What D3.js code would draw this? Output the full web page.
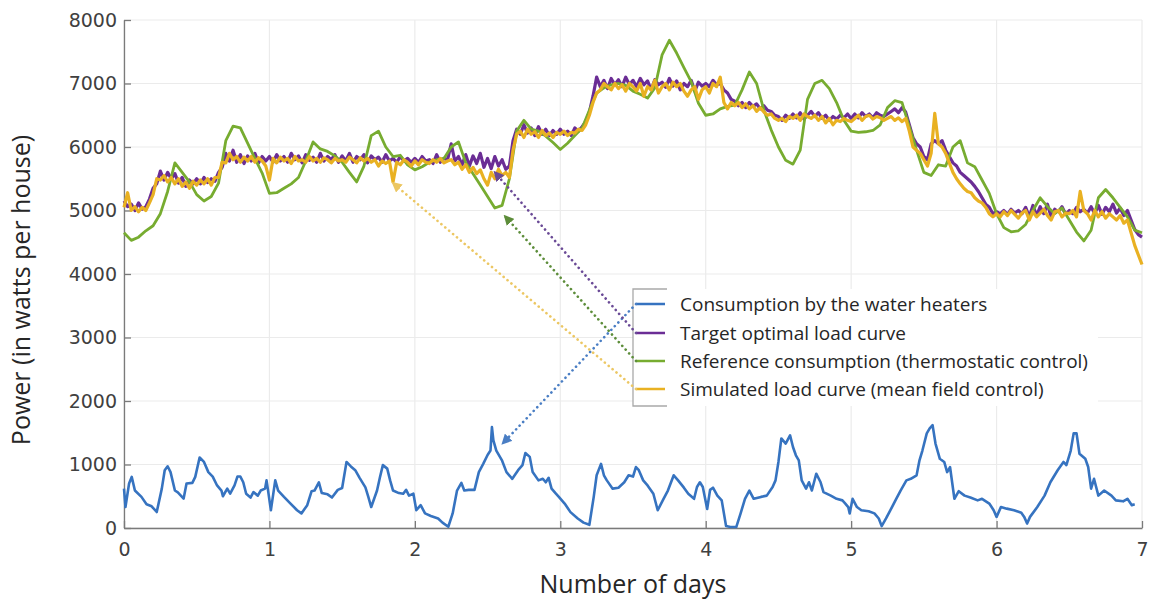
<!DOCTYPE html>
<html>
<head>
<meta charset="utf-8">
<script src="https://cdn.jsdelivr.net/npm/d3@7"></script>
<style>
  body { margin: 0; background: #fff; }
</style>
</head>
<body>
<div id="chart-area"></div>
<script>
// DAYS GRID FOR THE NOISY CURVES (0.025 DAY STEP) AND GREEN (0.05 STEP)
const stepFine = 0.025;
const stepGreen = 0.05;

// TARGET OPTIMAL LOAD CURVE (PURPLE), ONE ROW = HALF A DAY
const targetLoad = [
  5150, 5060, 5100, 5000, 5120, 5020, 5060, 5180, 5350, 5420, 5620, 5480, 5600, 5500, 5580, 5430, 5520, 5380, 5480, 5420,
  5500, 5420, 5520, 5440, 5500, 5460, 5600, 5680, 5900, 5780, 5950, 5760, 5880, 5740, 5860, 5780, 5900, 5750, 5850, 5780,
  5850, 5760, 5880, 5780, 5850, 5760, 5900, 5800, 5860, 5750, 5880, 5790, 5840, 5760, 5900, 5780, 5850, 5800, 5880, 5760,
  5860, 5780, 5900, 5760, 5850, 5800, 5880, 5750, 5860, 5800, 5840, 5760, 5880, 5780, 5820, 5760, 5850, 5780, 5820, 5760,
  5820, 5760, 5850, 5780, 5800, 5740, 5880, 5760, 5820, 5800, 6050, 5780, 5850, 5720, 5880, 5700, 5860, 5740, 5900, 5680,
  5820, 5660, 5850, 5700, 5800, 5650, 5700, 6100, 6280, 6200, 6350, 6220, 6300, 6180, 6320, 6200, 6280, 6180, 6260, 6200,
  6280, 6200, 6250, 6180, 6300, 6250, 6320, 6400, 6550, 6800, 7100, 6950, 7050, 6920, 7080, 6980, 7060, 6950, 7100, 6980,
  7050, 6950, 7080, 6980, 7040, 6900, 7060, 6980, 7020, 6940, 7080, 6960, 7040, 6900, 7000, 6950, 7050, 6880, 7020, 6960,
  7000, 6950, 7050, 6980, 7000, 6900, 6850, 6750, 6720, 6650, 6700, 6620, 6700, 6640, 6680, 6600, 6650, 6580, 6560, 6500,
  6480, 6420, 6500, 6450, 6520, 6460, 6540, 6440, 6500, 6560, 6480, 6540, 6450, 6500, 6420, 6480, 6440, 6500, 6460, 6520,
  6450, 6520, 6460, 6540, 6480, 6520, 6460, 6540, 6500, 6480, 6520, 6560, 6600, 6540, 6620, 6550, 6350, 6150, 6050, 6000,
  5850, 5800, 6050, 6100, 6050, 6100, 5950, 5850, 5750, 5700, 5600, 5550, 5500, 5450, 5380, 5300, 5200, 5100, 5050, 4950,
  4980, 4950, 5000, 4940, 5020, 4960, 5000, 4950, 5050, 4900, 5080, 4920, 5060, 4950, 5100, 4900, 5020, 4980, 5060, 4940,
  5000, 4950, 5050, 4980, 5020, 4960, 5060, 4950, 5080, 4940, 5050, 4980, 5100, 4960, 5040, 4920, 5000, 4850, 4700, 4620,
  4580
];

// SIMULATED LOAD CURVE, MEAN FIELD CONTROL (YELLOW)
const simulatedLoad = [
  5050, 5280, 5000, 5060, 4980, 5050, 5000, 5120, 5250, 5500, 5480, 5550, 5450, 5520, 5420, 5500, 5380, 5450, 5350, 5460,
  5400, 5480, 5420, 5500, 5400, 5520, 5520, 5760, 5750, 5900, 5800, 5850, 5760, 5840, 5780, 5850, 5760, 5830, 5780, 5700,
  5480, 5820, 5750, 5840, 5780, 5820, 5740, 5850, 5780, 5800, 5760, 5850, 5780, 5820, 5760, 5830, 5800, 5750, 5820, 5780,
  5800, 5760, 5840, 5800, 5750, 5830, 5780, 5820, 5760, 5800, 5700, 5780, 5740, 5780, 5450, 5760, 5720, 5800, 5760, 5700,
  5780, 5720, 5800, 5760, 5740, 5800, 5760, 5820, 5750, 5780, 5800, 5720, 5760, 5650, 5720, 5600, 5680, 5580, 5640, 5500,
  5400, 5600, 5500, 5650, 5550, 5600, 5520, 5950, 6200, 6250, 6150, 6280, 6200, 6240, 6150, 6260, 6180, 6220, 6150, 6230,
  6200, 6250, 6180, 6230, 6220, 6280, 6260, 6350, 6500, 6700, 6850, 6900, 7000, 6950, 6900, 7000, 6920, 6980, 6880, 7000,
  6950, 6880, 7000, 6800, 6950, 6900, 7050, 6850, 6950, 7000, 6900, 7020, 6950, 7000, 6880, 6800, 6900, 6950, 6750, 6900,
  6950, 6850, 7000, 6950, 7100, 6700, 6600, 6700, 6650, 6700, 6620, 6680, 6600, 6650, 6560, 6620, 6550, 6500, 6520, 6450,
  6420, 6450, 6400, 6480, 6450, 6500, 6420, 6520, 6480, 6450, 6500, 6420, 6480, 6380, 6450, 6350, 6420, 6400, 6450, 6420,
  6400, 6450, 6500, 6420, 6480, 6500, 6440, 6480, 6460, 6420, 6450, 6480, 6420, 6460, 6400, 6450, 6250, 6000, 5950, 5900,
  5800, 5700, 5900, 6530, 6050, 6000, 5900, 5750, 5600, 5500, 5420, 5350, 5300, 5280, 5200, 5150, 5120, 5050, 4950, 4900,
  4950, 4900, 4980, 4920, 5000, 4940, 4880, 4960, 5000, 4850, 4980, 4900, 4960, 5020, 4920, 4850, 4980, 5000, 4900, 4960,
  4950, 5000, 4900, 5300, 5000, 4950, 4850, 5000, 4900, 4980, 4880, 4950, 4900, 4850, 4920, 4800, 4850, 4650, 4450, 4300,
  4150
];

// REFERENCE CONSUMPTION, THERMOSTATIC CONTROL (GREEN), ONE ROW = ONE DAY
const referenceLoad = [
  4650, 4530, 4580, 4680, 4760, 4950, 5300, 5750, 5600, 5450, 5250, 5150, 5220, 5430, 6100, 6330, 6300, 6060, 5820, 5590,
  5270, 5280, 5350, 5420, 5520, 5780, 6080, 5970, 5930, 5860, 5760, 5600, 5450, 5700, 6180, 6250, 6000, 5850, 5870, 5720,
  5640, 5690, 5760, 5800, 5820, 6000, 6080, 5750, 5580, 5400, 5220, 5040, 5080, 5500, 6250, 6420, 6280, 6250, 6170, 6070,
  5960, 6060, 6180, 6300, 6580, 6850, 6930, 6980, 7000, 6970, 6880, 6830, 6770, 6930, 7450, 7680, 7480, 7250, 7030, 6690,
  6500, 6520, 6600, 6640, 6660, 6900, 7180, 7000, 6580, 6270, 6000, 5790, 5730, 5950, 6750, 7000, 7050, 6920, 6700, 6420,
  6250, 6230, 6240, 6260, 6350, 6620, 6730, 6700, 6320, 5950, 5600, 5550, 5720, 5700, 6000, 6100, 5750, 5690, 5480, 5270,
  4950, 4730, 4665, 4680, 4780, 5000, 5200, 5060, 4950, 5040, 4850, 4660, 4520, 4690, 5200, 5330, 5200, 5050, 4900, 4690,
  4650
];

// CONSUMPTION BY THE WATER HEATERS (BLUE): [day, watts]
const heaterLoad = [
  [0, 620], [0.01, 330], [0.035, 700], [0.053, 805], [0.075, 590], [0.12, 490], [0.155, 373], [0.19, 342], [0.225, 252],
  [0.26, 620], [0.28, 910], [0.30, 972], [0.32, 880], [0.35, 590], [0.37, 560], [0.41, 463], [0.43, 700], [0.47, 710],
  [0.49, 805], [0.52, 1110], [0.55, 1040], [0.58, 880], [0.61, 810], [0.64, 670], [0.67, 590], [0.68, 500], [0.71, 620],
  [0.73, 540], [0.76, 670], [0.78, 810], [0.80, 810], [0.82, 720], [0.84, 540], [0.87, 480], [0.89, 565], [0.92, 510],
  [0.94, 590], [0.97, 620], [0.98, 750], [0.99, 600], [1.01, 280], [1.04, 750], [1.06, 590], [1.10, 490], [1.14, 395],
  [1.19, 280], [1.22, 230], [1.26, 360], [1.29, 580], [1.31, 590], [1.34, 720], [1.36, 550], [1.40, 530], [1.43, 480],
  [1.47, 600], [1.50, 630], [1.53, 1040], [1.56, 970], [1.59, 910], [1.62, 790], [1.66, 640], [1.68, 490], [1.70, 330],
  [1.72, 460], [1.74, 590], [1.76, 800], [1.78, 990], [1.81, 935], [1.83, 750], [1.85, 590], [1.89, 550], [1.92, 540],
  [1.94, 600], [1.96, 510], [1.99, 540], [2.01, 280], [2.04, 360], [2.07, 230], [2.11, 190], [2.16, 150], [2.19, 85],
  [2.23, 20], [2.26, 230], [2.29, 590], [2.32, 710], [2.34, 590], [2.37, 600], [2.41, 600], [2.44, 880], [2.47, 1010],
  [2.50, 1150], [2.52, 1220], [2.53, 1590], [2.54, 1380], [2.56, 1220], [2.60, 1060], [2.63, 880], [2.67, 775], [2.71, 910],
  [2.74, 990], [2.76, 1180], [2.79, 1120], [2.81, 880], [2.85, 750], [2.88, 775], [2.90, 720], [2.92, 790], [2.94, 620],
  [2.97, 540], [2.99, 490], [3.03, 385], [3.07, 250], [3.12, 150], [3.16, 85], [3.20, 50], [3.23, 490], [3.25, 830],
  [3.28, 1010], [3.30, 830], [3.32, 750], [3.36, 620], [3.40, 635], [3.44, 720], [3.47, 830], [3.50, 810], [3.52, 960],
  [3.54, 910], [3.57, 750], [3.60, 670], [3.64, 540], [3.67, 280], [3.71, 460], [3.74, 590], [3.78, 830], [3.81, 750],
  [3.85, 635], [3.88, 540], [3.92, 460], [3.94, 645], [3.96, 720], [3.98, 645], [4.01, 300], [4.03, 600], [4.05, 635],
  [4.08, 510], [4.11, 435], [4.14, 30], [4.17, 15], [4.21, 15], [4.24, 230], [4.27, 460], [4.30, 590], [4.33, 460],
  [4.38, 490], [4.42, 510], [4.46, 645], [4.48, 750], [4.50, 1040], [4.52, 1410], [4.55, 1330], [4.58, 1460], [4.60, 1275],
  [4.62, 1145], [4.64, 1065], [4.66, 750], [4.69, 620], [4.71, 720], [4.73, 590], [4.76, 855], [4.79, 720], [4.81, 565],
  [4.86, 510], [4.90, 460], [4.94, 435], [4.96, 385], [4.98, 330], [4.99, 230], [5.01, 460], [5.04, 330], [5.07, 280],
  [5.12, 265], [5.16, 230], [5.19, 150], [5.21, 30], [5.24, 150], [5.27, 280], [5.31, 460], [5.34, 590], [5.38, 750],
  [5.41, 775], [5.45, 830], [5.47, 1065], [5.49, 1220], [5.52, 1490], [5.54, 1570], [5.56, 1620], [5.58, 1330], [5.61, 1090],
  [5.64, 1040], [5.66, 880], [5.68, 960], [5.71, 460], [5.74, 580], [5.78, 510], [5.82, 480], [5.87, 435], [5.90, 460],
  [5.95, 385], [5.98, 280], [6.00, 175], [6.03, 330], [6.07, 305], [6.12, 280], [6.17, 240], [6.19, 175], [6.21, 70],
  [6.23, 175], [6.28, 330], [6.33, 510], [6.37, 720], [6.42, 910], [6.46, 1040], [6.48, 990], [6.51, 1220], [6.53, 1490],
  [6.55, 1490], [6.57, 1170], [6.61, 1090], [6.63, 960], [6.65, 620], [6.67, 775], [6.70, 510], [6.74, 590], [6.79, 510],
  [6.82, 435], [6.87, 420], [6.90, 460], [6.93, 360], [6.95, 375]
];

// TICKS
const xTicks = [0, 1, 2, 3, 4, 5, 6, 7];
const yTicks = [0, 1000, 2000, 3000, 4000, 5000, 6000, 7000, 8000];

// LEGEND LABELS AND THE POINT ON THE CURVE EACH ARROW POINTS AT [day, watts]
const seriesNames = [
  "Consumption by the water heaters",
  "Target optimal load curve",
  "Reference consumption (thermostatic control)",
  "Simulated load curve (mean field control)"
];
const arrowTargets = [[2.605, 1335], [2.55, 5600], [2.62, 4910], [1.85, 5430]];

const colors = ["#3673c0", "#6b2d95", "#77ac30", "#e9b122"];
const arrowColors = ["#4a7ec4", "#6a4a96", "#5d8d3a", "#ecc763"];

const width = 1151, height = 600;
const margin = { left: 124, right: 9, top: 20, bottom: 72 };

const svg = d3.select("#chart-area")
    .append("svg")
    .attr("width", width)
    .attr("height", height);

svg.append("rect").attr("width", width).attr("height", height).attr("fill", "#fff");

const x = d3.scaleLinear().domain([0, 7]).range([margin.left, width - margin.right]);
const y = d3.scaleLinear().domain([0, 8000]).range([height - margin.bottom, margin.top]);

// GRID
svg.append("g")
    .selectAll("line.vg")
    .data(xTicks)
    .enter().append("line")
    .attr("x1", d => x(d)).attr("x2", d => x(d))
    .attr("y1", y(0)).attr("y2", y(8000))
    .attr("stroke", "#ebebeb").attr("stroke-width", 1.2);
svg.append("g")
    .selectAll("line.hg")
    .data(yTicks)
    .enter().append("line")
    .attr("x1", x(0)).attr("x2", x(7))
    .attr("y1", d => y(d)).attr("y2", d => y(d))
    .attr("stroke", "#ebebeb").attr("stroke-width", 1.2);

// AXES (TICKS POINT INWARD)
const xAxis = svg.append("g")
    .attr("transform", "translate(0," + y(0) + ")")
    .call(d3.axisBottom(x).tickValues(xTicks).tickFormat(d3.format("d"))
        .tickSize(-7).tickSizeOuter(0).tickPadding(15));
const yAxis = svg.append("g")
    .attr("transform", "translate(" + x(0) + ",0)")
    .call(d3.axisLeft(y).tickValues(yTicks).tickFormat(d3.format("d"))
        .tickSize(-7).tickSizeOuter(0).tickPadding(7));

[xAxis, yAxis].forEach(function (a) {
    a.select(".domain").attr("stroke", "#7a7a7a").attr("stroke-width", 1.3);
    a.selectAll(".tick line").attr("stroke", "#7a7a7a").attr("stroke-width", 1.3);
    a.selectAll("text")
        .attr("fill", "#404040")
        .style("font-family", "'DejaVu Sans', sans-serif")
        .style("font-size", "19px");
});

// CURVES
const line = d3.line()
    .x(d => x(d[0]))
    .y(d => y(d[1]))
    .curve(d3.curveLinear);

const toPairs = (arr, step) => arr.map((v, i) => [i * step, v]);

const series = [
    heaterLoad,
    toPairs(targetLoad, stepFine),
    toPairs(referenceLoad, stepGreen),
    toPairs(simulatedLoad, stepFine)
];
const widths = [2.6, 3.2, 2.8, 3.2];

series.forEach(function (data, i) {
    svg.append("path")
        .datum(data)
        .attr("d", line)
        .attr("fill", "none")
        .attr("stroke", colors[i])
        .attr("stroke-width", widths[i])
        .attr("stroke-linejoin", "round");
});

// LEGEND
const legX = 633, legTop = 289, legBottom = 406, rowY = [304, 333, 361, 389];

const legend = svg.append("g");
legend.append("rect")
    .attr("x", legX).attr("y", legTop)
    .attr("width", 465).attr("height", legBottom - legTop)
    .attr("fill", "#fff");
legend.append("path")
    .attr("d", "M" + (legX + 34) + "," + legTop + "H" + legX + "V" + legBottom + "H" + (legX + 34))
    .attr("fill", "none")
    .attr("stroke", "#a9a9a9")
    .attr("stroke-width", 1.3);

seriesNames.forEach(function (name, i) {
    legend.append("line")
        .attr("x1", legX + 3).attr("x2", legX + 32)
        .attr("y1", rowY[i]).attr("y2", rowY[i])
        .attr("stroke", colors[i]).attr("stroke-width", 2.5);
    legend.append("text")
        .attr("x", legX + 47)
        .attr("y", rowY[i] + 7)
        .attr("fill", "#262626")
        .style("font-family", "'Open Sans', sans-serif")
        .style("font-size", "19px")
        .text(name);
});

// DOTTED ARROWS FROM LEGEND TO CURVES
const defs = svg.append("defs");
arrowColors.forEach(function (c, i) {
    defs.append("marker")
        .attr("id", "head" + i)
        .attr("viewBox", "0 0 10 10")
        .attr("refX", 8).attr("refY", 5)
        .attr("markerWidth", 4).attr("markerHeight", 4)
        .attr("orient", "auto")
        .append("path")
        .attr("d", "M0,0L10,5L0,10z")
        .attr("fill", c);
});

arrowTargets.forEach(function (t, i) {
    svg.append("line")
        .attr("x1", legX + 3).attr("y1", rowY[i])
        .attr("x2", x(t[0])).attr("y2", y(t[1]))
        .attr("stroke", arrowColors[i])
        .attr("stroke-width", 2.6)
        .attr("stroke-linecap", "round")
        .attr("stroke-dasharray", "0.1,5")
        .attr("marker-end", "url(#head" + i + ")");
});

// AXIS TITLES
svg.append("text")
    .attr("x", x(3.5))
    .attr("y", 593)
    .attr("text-anchor", "middle")
    .attr("fill", "#262626")
    .style("font-family", "'Open Sans', sans-serif")
    .style("font-size", "25px")
    .text("Number of days");

svg.append("text")
    .attr("transform", "translate(30,290) rotate(-90)")
    .attr("text-anchor", "middle")
    .attr("fill", "#262626")
    .style("font-family", "'Open Sans', sans-serif")
    .style("font-size", "25px")
    .text("Power (in watts per house)");
</script>
</body>
</html>
